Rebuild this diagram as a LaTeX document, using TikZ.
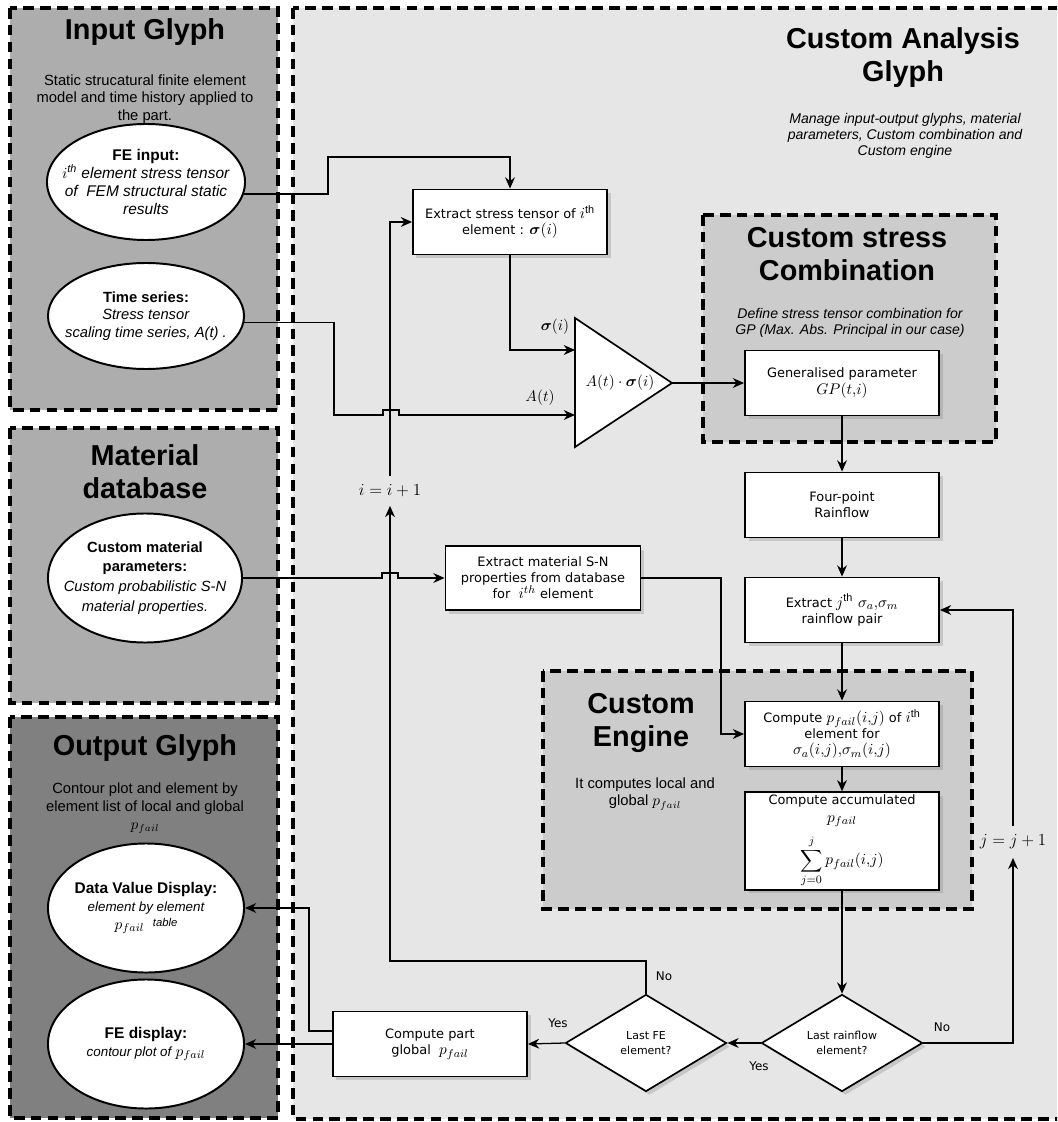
\documentclass[tikz,border=0pt]{standalone}
\usepackage{amsmath}
\usepackage{amssymb}
\usepackage{fontspec}
\setmainfont{Liberation Sans}
\newfontfamily\boxfont{DejaVu Sans}
\usetikzlibrary{arrows.meta,shapes.geometric,shadows}
\definecolor{areagray}{HTML}{E6E6E6}
\definecolor{glyphgray}{HTML}{ADADAD}
\definecolor{subgray}{HTML}{CCCCCC}
\definecolor{outgray}{HTML}{808080}
\newcommand{\pfail}{p_{fail}}
\newcommand{\mth}[1]{{\fontsize{11}{12}\selectfont$#1$}}

\begin{document}
\begin{tikzpicture}[x=0.025cm, y=-0.025cm, >={Stealth[length=8pt,width=7pt]},
	panel/.style={draw=black, line width=2.5pt, dash pattern=on 7.5pt off 4.5pt},
	title/.style={font=\fontsize{20.5}{23.5}\selectfont\bfseries, align=center},
	desc/.style={font=\fontsize{10.5}{12.3}\selectfont, align=center},
	note/.style={font=\fontsize{10}{11.6}\selectfont\itshape, align=center},
	glyph/.style={ellipse, draw, line width=1.4pt, fill=white, inner xsep=-16pt, inner ysep=-6pt, align=center, font=\fontsize{11}{12.8}\selectfont},
	stepbox/.style={rectangle, draw, line width=1.3pt, fill=white, inner sep=2pt, align=center, minimum width=4.85cm, minimum height=1.625cm, font=\boxfont\fontsize{9.2}{11.5}\selectfont, drop shadow={shadow xshift=2.5pt, shadow yshift=-2.5pt, opacity=0.3}},
	choice/.style={diamond, draw, line width=1.2pt, fill=white, inner sep=0pt, aspect=1.66, minimum width=4.025cm, minimum height=2.425cm, align=center, font=\boxfont\fontsize{7.8}{10.5}\selectfont, drop shadow={shadow xshift=2.5pt, shadow yshift=-2.5pt, opacity=0.3}},
	answer/.style={font=\boxfont\fontsize{8.5}{10}\selectfont},
	counter/.style={inner sep=6pt, font=\fontsize{11.5}{13}\selectfont},
	flow/.style={line width=0.9pt}]
		\useasboundingbox (0,0) rectangle (1057,1122);
		\clip (0,0) rectangle (1057,1122);

		\draw[panel, fill=areagray] (293,8) rectangle (1075,1119);
		\draw[panel, fill=glyphgray] (10,8) rectangle (278,410);
		\draw[panel, fill=glyphgray] (10,428) rectangle (278,703);
		\draw[panel, fill=outgray] (10,717) rectangle (278,1118);
		\draw[panel, fill=subgray] (703,215) rectangle (996,442);
		\draw[panel, fill=subgray] (543,671) rectangle (972,909);

		\node[title] (tin) at (145,32) {Input Glyph};
		\node[desc] (din) at (145,99) {Static strucatural finite element\\model and time history applied to\\the part.};
		\node[glyph, minimum width=4.95cm, minimum height=2.9cm] (feinput) at (146,182) {\textbf{FE input:}\\\textit{$i$\textsuperscript{th} element stress tensor}\\\textit{of\ \ FEM structural static}\\\textit{results}};
		\node[glyph, minimum width=4.9cm, minimum height=2.65cm, font=\fontsize{10.5}{12.3}\selectfont] (tseries) at (146,316) {\textbf{Time series:}\\\textit{Stress tensor}\\\textit{scaling time series, A(t) .}};

		\node[title] (tmat) at (145,472) {Material\\database};
		\node[glyph, minimum width=4.85cm, minimum height=3.225cm, font=\fontsize{10.5}{14}\selectfont] (matpar) at (145,578) {\textbf{Custom material}\\\textbf{parameters:}\\\textit{Custom probabilistic S-N}\\\textit{material properties.}};

		\node[title] (tout) at (145,748) {Output Glyph};
		\node[desc, font=\fontsize{10.5}{12.8}\selectfont] (dout) at (145,808) {Contour plot and element by\\element list of local and global\\$\pfail$};
		\node[glyph, minimum width=4.9cm, minimum height=3.225cm] (dataval) at (146,908) {\textbf{Data Value Display:}\\{\fontsize{9.5}{12}\selectfont\itshape element by element}\\$\pfail$\ \ {\fontsize{8}{9}\selectfont\itshape\raisebox{2pt}{table}}};
		\node[glyph, minimum width=4.9cm, minimum height=3.225cm] (fedisp) at (146,1044) {\textbf{FE display:}\\{\fontsize{9.5}{12}\selectfont\itshape contour plot of} $\pfail$};

		\node[title] (tana) at (903,58) {Custom Analysis\\Glyph};
		\node[note] (dana) at (905,136) {Manage input-output glyphs, material\\parameters, Custom combination and\\Custom engine};
		\node[title] (tcomb) at (847,254) {Custom stress\\Combination};
		\node[note] (dcomb) at (850,323) {Define stress tensor combination for\\GP (Max. Abs. Principal in our case)};
		\node[title] (teng) at (641,723) {Custom\\Engine};
		\node[desc] (deng) at (645,794) {It computes local and\\global $\pfail$};

		\node[stepbox] (sbox) at (510,222) {Extract stress tensor of \mth{i^{\mathrm{th}}}\\element : \mth{\boldsymbol{\sigma}(i)}};
		\node[stepbox] (gp) at (842,383) {Generalised parameter\\\mth{GP(t,\!i)}};
		\node[stepbox] (four) at (842,505) {Four-point\\Rainflow};
		\node[stepbox] (jpair) at (842,610) {Extract \mth{j^{\mathrm{th}}\ \sigma_a,\!\sigma_m}\\rainflow pair};
		\node[stepbox, minimum width=4.875cm, minimum height=1.6cm] (matbox) at (543,578) {Extract material S-N\\properties from database\\for\ \ \mth{i^{th}} element};
		\node[stepbox] (cpf) at (842,734) {Compute \mth{\pfail(i,\!j)} of \mth{i^{\mathrm{th}}}\\element for\\\mth{\sigma_a(i,\!j),\!\sigma_m(i,\!j)}};
		\node[stepbox, minimum height=2.425cm] (acc) at (842,841) {Compute accumulated\\[1pt]\mth{\pfail}\\[5pt]\mth{\displaystyle\sum_{j=0}^{j}\pfail(i,\!j)}};
		\node[stepbox] (part) at (430,1044) {Compute part\\global\ \ \mth{\pfail}};
		\node[choice] (rdec) at (842,1043) {Last rainflow\\element?};
		\node[choice] (fedec) at (646,1043) {Last FE\\element?};

		\coordinate (tria) at (575,318);
		\coordinate (trib) at (575,447);
		\coordinate (tric) at (672,383);
		\coordinate (sigin) at (575,350);
		\coordinate (ain) at (575,415);
		\draw[line width=1.2pt, fill=white] (tria) -- (tric) -- (trib) -- cycle;
		\node[font=\fontsize{11}{12}\selectfont] (prod) at (620,383) {$A(t)\cdot\boldsymbol{\sigma}(i)$};
		\node[font=\fontsize{11}{12}\selectfont] (siglab) at (555,327) {$\boldsymbol{\sigma}(i)$};
		\node[font=\fontsize{11}{12}\selectfont] (alab) at (540,398) {$A(t)$};
		\node[counter] (iinc) at (390,491) {$i=i+1$};
		\node[counter] (jinc) at (1013,842) {$j=j+1$};

		\node[answer] (noi) at (664,976) {No};
		\node[answer] (yesfe) at (558,1023) {Yes};
		\node[answer] (yesr) at (759,1066) {Yes};
		\node[answer] (noj) at (942,1027) {No};

		\draw[flow,->] (feinput.-7) -| (328,157) -| (sbox.north);
		\draw[flow,->] (tseries.-4) -| (334,415) -- (383,415) -- (383,410) -- (399,410) -- (399,415) -- (ain);
		\draw[flow,->] (sbox.south) |- (sigin);
		\draw[flow,->] (tric) -- (gp.west);
		\draw[flow,->] (gp.south) -- (four.north);
		\draw[flow,->] (four.south) -- (jpair.north);
		\draw[flow,->] (jpair.south) -- (cpf.north);
		\draw[flow,->] (cpf.south) -- (acc.north);
		\draw[flow,->] (acc.south) -- (rdec.north);
		\draw[flow,->] (matpar.east) -- (382,578) -- (382,573) -- (398,573) -- (398,578) -- (matbox.west);
		\draw[flow,->] (matbox.east) -- (721,578) |- (cpf.west);
		\draw[flow,->] (rdec.west) -- (fedec.east);
		\draw[flow,->] (rdec.east) -| (jinc.south);
		\draw[flow,->] (jinc.north) |- (jpair.east);
		\draw[flow,->] (fedec.north) |- (390,961) -- (iinc.south);
		\draw[flow,->] (iinc.north) |- (sbox.west);
		\draw[flow,->] (fedec.west) -- (part.east);
		\draw[flow,->] ([yshift=0.325cm]part.west) -| (309,908) -- (dataval.east);
		\draw[flow,->] (part.west) -- (fedisp.east);
	\end{tikzpicture}
\end{document}
